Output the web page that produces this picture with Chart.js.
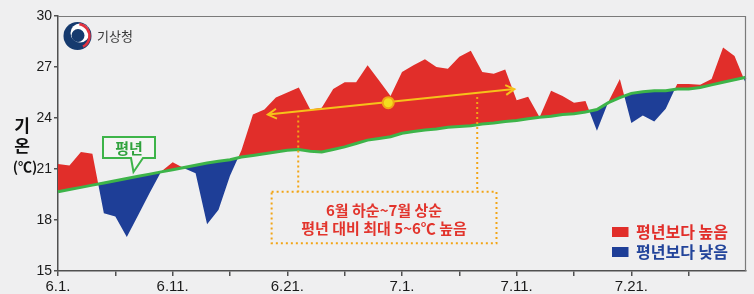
<!DOCTYPE html>
<html><head><meta charset="utf-8">
<script src="https://cdn.jsdelivr.net/npm/chart.js@4"></script>
<style>html,body{margin:0;padding:0;background:#efeff0;}#wrap{width:754px;height:294px;}</style>
</head><body><div id="wrap"><canvas id="c" width="754" height="294"></canvas></div>
<script>
const categories = [
'6.1.','6.2.','6.3.','6.4.','6.5.','6.6.','6.7.','6.8.','6.9.','6.10.',
'6.11.','6.12.','6.13.','6.14.','6.15.','6.16.','6.17.','6.18.','6.19.','6.20.',
'6.21.','6.22.','6.23.','6.24.','6.25.','6.26.','6.27.','6.28.','6.29.','6.30.',
'7.1.','7.2.','7.3.','7.4.','7.5.','7.6.','7.7.','7.8.','7.9.','7.10.',
'7.11.','7.12.','7.13.','7.14.','7.15.','7.16.','7.17.','7.18.','7.19.','7.20.',
'7.21.','7.22.','7.23.','7.24.','7.25.','7.26.','7.27.','7.28.','7.29.','7.30.','7.31.'];
const normalTemps = [
19.66,19.79,19.92,20.05,20.18,20.31,20.44,20.57,20.70,20.83,
20.96,21.09,21.22,21.35,21.45,21.55,21.70,21.80,21.90,22.00,
22.10,22.15,22.05,22.00,22.15,22.30,22.50,22.70,22.80,22.90,
23.10,23.20,23.30,23.35,23.45,23.50,23.55,23.65,23.70,23.80,
23.85,23.95,24.05,24.10,24.20,24.25,24.35,24.50,24.90,25.20,
25.45,25.55,25.60,25.60,25.70,25.70,25.80,25.95,26.10,26.25,26.40];
const actualTemps = [
21.3,21.2,22.0,21.9,18.4,18.2,17.0,18.3,19.6,20.85,
21.4,21.05,20.75,17.75,18.6,20.6,22.1,24.2,24.5,25.2,
25.5,25.8,24.5,24.6,25.7,26.1,26.1,27.1,26.2,25.3,
26.7,27.1,27.45,27.0,26.9,27.6,27.95,26.7,26.6,26.85,
25.05,25.25,24.05,25.6,25.3,24.9,25.0,23.25,24.95,26.3,
23.7,24.15,23.8,24.55,26.0,26.0,25.95,26.3,28.15,27.65,26.0];
const xTickLabels = ['6.1.','6.11.','6.21.','7.1.','7.11.','7.21.'];
const yMin = 15, yMax = 30, yStep = 3;
const legendLabels = ['평년보다 높음','평년보다 낮음'];
const normalLabel = '평년';
const noteLines = ['6월 하순~7월 상순','평년 대비 최대 5~6℃ 높음'];

const RED = '#e12e2a', BLUE = '#1e3e97', GREEN = '#3db449', YEL = '#f6c21a', ORA = '#f2a516';
const KFONT = '"Noto Sans CJK KR", "Noto Sans", sans-serif';

const decor = {
  id: 'decor',
  afterDraw(chart) {
    const ctx = chart.ctx, a = chart.chartArea;
    const xs = chart.scales.x, ys = chart.scales.y;
    const X = v => xs.getPixelForValue(v), Y = v => ys.getPixelForValue(v);
    ctx.save();
    // frame top/right
    ctx.strokeStyle = '#7a7a7a'; ctx.lineWidth = 1.2;
    ctx.beginPath(); ctx.moveTo(a.left, a.top + 0.5); ctx.lineTo(a.right - 0.5, a.top + 0.5); ctx.lineTo(a.right - 0.5, a.bottom); ctx.stroke();

    // logo
    const cx = 77.5, cy = 36, r = 14;
    ctx.fillStyle = '#163a6e';
    ctx.beginPath(); ctx.arc(cx, cy, r, 0, Math.PI * 2); ctx.fill();
    ctx.fillStyle = '#ffffff';
    ctx.beginPath(); ctx.arc(cx + 2.5, cy - 3, 9.5, 0, Math.PI * 2); ctx.fill();
    ctx.fillStyle = '#163a6e';
    ctx.beginPath(); ctx.arc(cx + 0.5, cy - 0.5, 6.5, 0, Math.PI * 2); ctx.fill();
    ctx.strokeStyle = '#e2323e'; ctx.lineWidth = 2.6;
    ctx.beginPath(); ctx.arc(cx, cy, r - 2, -Math.PI * 0.45, Math.PI * 0.35); ctx.stroke();
    ctx.fillStyle = '#3a3a3a'; ctx.font = '13px ' + KFONT;
    ctx.textBaseline = 'middle'; ctx.textAlign = 'left';
    ctx.fillText('기상청', 97, 36);

    // y title
    ctx.fillStyle = '#111'; ctx.textAlign = 'center';
    ctx.font = 'bold 17px ' + KFONT;
    ctx.fillText('기', 22, 126);
    ctx.fillText('온', 22, 146);
    ctx.font = 'bold 14px ' + KFONT;
    ctx.fillText('(℃)', 25, 167);

    // normal bubble
    ctx.strokeStyle = GREEN; ctx.lineWidth = 2; ctx.fillStyle = '#f4f4f4';
    ctx.beginPath();
    ctx.moveTo(103, 137); ctx.lineTo(155, 137); ctx.lineTo(155, 158);
    ctx.lineTo(143, 158); ctx.lineTo(133.5, 172); ctx.lineTo(131, 158);
    ctx.lineTo(103, 158); ctx.closePath(); ctx.fill(); ctx.stroke();
    ctx.fillStyle = '#2fa23d'; ctx.font = 'bold 15px ' + KFONT;
    ctx.fillText(normalLabel, 129, 148);

    // yellow arrow
    const x1 = X(18.3), y1 = Y(24.2), x2 = X(39.8), y2 = Y(25.7);
    ctx.strokeStyle = YEL; ctx.lineWidth = 2;
    ctx.beginPath(); ctx.moveTo(x1, y1); ctx.lineTo(x2, y2); ctx.stroke();
    const ang = Math.atan2(y2 - y1, x2 - x1), L = 10, h = 0.52;
    ctx.beginPath();
    ctx.moveTo(x1 + L * Math.cos(ang - h), y1 + L * Math.sin(ang - h)); ctx.lineTo(x1, y1);
    ctx.lineTo(x1 + L * Math.cos(ang + h), y1 + L * Math.sin(ang + h)); ctx.stroke();
    ctx.beginPath();
    ctx.moveTo(x2 - L * Math.cos(ang - h), y2 - L * Math.sin(ang - h)); ctx.lineTo(x2, y2);
    ctx.lineTo(x2 - L * Math.cos(ang + h), y2 - L * Math.sin(ang + h)); ctx.stroke();
    ctx.fillStyle = '#f3dc1e'; ctx.strokeStyle = ORA; ctx.lineWidth = 2;
    ctx.beginPath(); ctx.arc(X(28.8), Y(24.9), 5.5, 0, Math.PI * 2); ctx.fill(); ctx.stroke();

    // dotted lines & box
    ctx.strokeStyle = ORA; ctx.lineWidth = 2; ctx.setLineDash([2, 3]);
    const bx1 = X(18.63), bx2 = X(38.24), by1 = Y(19.66), by2 = Y(16.63);
    const lineAt = d => Y(24.2 + (d - 18.3) * (1.5 / 21.5));
    ctx.beginPath(); ctx.moveTo(X(20.95), lineAt(20.95) + 4); ctx.lineTo(X(20.95), by1); ctx.stroke();
    ctx.beginPath(); ctx.moveTo(X(36.56), lineAt(36.56) + 4); ctx.lineTo(X(36.56), by1); ctx.stroke();
    ctx.strokeRect(bx1, by1, bx2 - bx1, by2 - by1);
    ctx.setLineDash([]);
    ctx.fillStyle = '#e2342c'; ctx.font = 'bold 15px ' + KFONT; ctx.textAlign = 'center';
    const bcx = (bx1 + bx2) / 2;
    ctx.fillText(noteLines[0], bcx, 210);
    ctx.fillText(noteLines[1], bcx, 228.5);

    // legend
    ctx.textAlign = 'left'; ctx.font = 'bold 16px ' + KFONT;
    ctx.fillStyle = RED; ctx.fillRect(612, 227, 16.5, 10);
    ctx.fillText(legendLabels[0], 636, 232);
    ctx.fillStyle = BLUE; ctx.fillRect(612, 247, 16.5, 10);
    ctx.fillStyle = '#22449a';
    ctx.fillText(legendLabels[1], 636, 252);
    ctx.restore();
  }
};

new Chart(document.getElementById('c'), {
  type: 'line',
  data: {
    labels: categories,
    datasets: [
      { label: 'normal', data: normalTemps, borderColor: GREEN, borderWidth: 3, pointRadius: 0, tension: 0, fill: false },
      { label: 'actual', data: actualTemps, borderColor: 'rgba(0,0,0,0)', borderWidth: 0, pointRadius: 0, tension: 0,
        fill: { target: 0, above: RED, below: BLUE } }
    ]
  },
  options: {
    responsive: false, animation: false, devicePixelRatio: 1,
    layout: { padding: { left: 0, right: 8, top: 16, bottom: 0 } },
    plugins: { legend: { display: false }, tooltip: { enabled: false } },
    scales: {
      x: {
        type: 'category', offset: false,
        afterFit: s => { s.height = 23; },
        border: { display: true, color: '#505050', width: 1.5 },
        grid: { drawOnChartArea: false, drawTicks: true, tickLength: 5,
          color: c => (c.index % 5 === 0 ? '#505050' : 'rgba(0,0,0,0)'), lineWidth: 1.5 },
        ticks: { autoSkip: false, maxRotation: 0, minRotation: 0, padding: 2,
          color: '#1a1a1a', font: { family: 'Liberation Sans, Arial, sans-serif', size: 15 },
          callback: (v, i) => (i % 10 === 0 ? xTickLabels[i / 10] : '') }
      },
      y: {
        min: yMin, max: yMax,
        afterFit: s => { s.width = 58; },
        border: { display: true, color: '#505050', width: 1.5 },
        grid: { drawOnChartArea: false, drawTicks: true, tickLength: 4, color: '#505050', lineWidth: 1.5 },
        ticks: { stepSize: yStep, padding: 2, color: '#1a1a1a',
          font: { family: 'Liberation Sans, Arial, sans-serif', size: 14 } }
      }
    }
  },
  plugins: [decor]
});
</script></body></html>
